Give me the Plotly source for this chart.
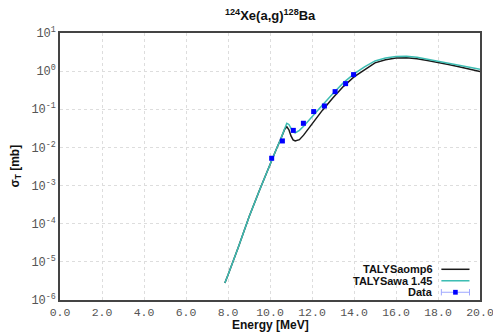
import plotly.graph_objects as go

# Data
energy_th = [7.85, 8.0, 8.5, 9.0, 9.5, 10.0, 10.3, 10.5, 10.7, 10.8, 10.9, 11.0, 11.1, 11.2,
             11.4, 11.6, 12.0, 12.5, 13.0, 13.5, 14.0, 14.5, 15.0, 15.5, 16.0, 16.5, 17.0,
             17.5, 18.0, 18.5, 19.0, 19.5, 20.0]
xs_awa = [2.8e-6, 4.5e-6, 2.5e-5, 1.5e-4, 7.5e-4, 3.8e-3, 9e-3, 0.016, 0.032, 0.043, 0.040,
          0.031, 0.025, 0.024, 0.028, 0.036, 0.065, 0.13, 0.26, 0.5, 0.85, 1.3, 1.85, 2.2,
          2.42, 2.45, 2.3, 2.05, 1.85, 1.65, 1.45, 1.28, 1.12]
xs_omp6 = [2.8e-6, 4.5e-6, 2.5e-5, 1.5e-4, 7.5e-4, 3.8e-3, 9e-3, 0.016, 0.030, 0.035, 0.029,
           0.020, 0.0158, 0.0148, 0.016, 0.021, 0.042, 0.095, 0.2, 0.4, 0.71, 1.1, 1.65, 2.0,
           2.22, 2.25, 2.12, 1.9, 1.7, 1.5, 1.3, 1.14, 0.98]
energy_exp = [10.08, 10.59, 11.11, 11.59, 12.08, 12.59, 13.10, 13.60, 13.98]
xs_exp = [0.0052, 0.0148, 0.028, 0.043, 0.087, 0.122, 0.29, 0.47, 0.81]
xs_exp_err = [0.0005, 0.0015, 0.003, 0.005, 0.009, 0.012, 0.03, 0.045, 0.07]

x_ticks = [0, 2, 4, 6, 8, 10, 12, 14, 16, 18, 20]
x_ticklabels = ["0.0", "2.0", "4.0", "6.0", "8.0", "10.0", "12.0", "14.0", "16.0", "18.0", "20.0"]
y_exps = [-6, -5, -4, -3, -2, -1, 0, 1]

black = "#1a1a1a"
teal = "#3dbdb3"
blue = "#0000ff"
errc = "#9fa8ff"

fig = go.Figure()
fig.add_trace(go.Scatter(x=energy_th, y=xs_omp6, mode="lines", name="TALYSaomp6",
                         line=dict(color=black, width=1.5), showlegend=False))
fig.add_trace(go.Scatter(x=energy_th, y=xs_awa, mode="lines", name="TALYSawa 1.45",
                         line=dict(color=teal, width=1.5), showlegend=False))
fig.add_trace(go.Scatter(x=energy_exp, y=xs_exp, mode="markers", name="Data",
                         marker=dict(symbol="square", size=5, color=blue),
                         error_y=dict(type="data", array=xs_exp_err, color=errc, thickness=1, width=2),
                         showlegend=False))

tickfont = dict(family="Liberation Mono, Courier New, monospace", size=12, color="#555555")
xtickfont = dict(family="Liberation Mono, Courier New, monospace", size=11.5, color="#555555")
titlefont = dict(family="Liberation Sans, Arial", size=12, color="#111111")

fig.update_xaxes(range=[0, 20], tickvals=x_ticks, ticktext=x_ticklabels, tickfont=xtickfont,
                 showgrid=True, gridcolor="#dddddd", griddash="dot", gridwidth=1,
                 showline=True, linecolor="#444444", linewidth=1.5, mirror=True,
                 ticks="inside", ticklen=0, zeroline=False, automargin=False,
                 ticklabeloverflow="allow")
fig.update_yaxes(type="log", range=[-6, 1], tickvals=[10 ** e for e in y_exps],
                 ticktext=["10<sup>%d</sup>" % e for e in y_exps], tickfont=tickfont,
                 showgrid=True, gridcolor="#dddddd", griddash="dot", gridwidth=1,
                 showline=True, linecolor="#444444", linewidth=1.5, mirror=True,
                 ticks="inside", ticklen=0, zeroline=False, automargin=False,
                 ticklabeloverflow="allow")

# Legend (text right-aligned, sample on the right), in paper coordinates
legend_items = [("TALYSaomp6", black), ("TALYSawa 1.45", teal), ("Data", None)]
row_y = [0.115, 0.072, 0.029]
annotations = [
    dict(text="<b><sup>124</sup>Xe(a,g)<sup>128</sup>Ba</b>", x=0.5, xref="paper",
         y=1.0, yref="paper", yanchor="bottom", yshift=8, showarrow=False,
         font=dict(family="Liberation Sans, Arial", size=13, color="#111111")),
    dict(text="<b>Energy [MeV]</b>", x=0.5, xref="paper", y=0, yref="paper",
         yanchor="top", yshift=-16, showarrow=False, font=titlefont),
    dict(text="<b>σ<sub>T</sub> [mb]</b>", x=0, xref="paper", y=0.5, yref="paper",
         xanchor="center", xshift=-45, textangle=-90, showarrow=False, font=titlefont),
]
shapes = []
for (name, col), yy in zip(legend_items, row_y):
    annotations.append(dict(text="<b>%s</b>" % name, x=0.893, xref="paper", y=yy, yref="paper",
                            xanchor="right", yanchor="middle", showarrow=False,
                            font=dict(family="Liberation Sans, Arial", size=11, color="#111111")))
    if col is not None:
        shapes.append(dict(type="line", xref="paper", yref="paper", x0=0.908, x1=0.975, y0=yy, y1=yy,
                           line=dict(color=col, width=1.5)))
    else:
        shapes.append(dict(type="line", xref="paper", yref="paper", x0=0.908, x1=0.975, y0=yy, y1=yy,
                           line=dict(color=errc, width=1)))
        for xe in (0.908, 0.975):
            shapes.append(dict(type="line", xref="paper", yref="paper", x0=xe, x1=xe, y0=yy - 0.012, y1=yy + 0.012,
                               line=dict(color=errc, width=1)))
        shapes.append(dict(type="rect", xref="paper", yref="paper", x0=0.936, x1=0.947, y0=yy - 0.009, y1=yy + 0.009,
                           fillcolor=blue, line=dict(width=0)))

fig.update_layout(width=493, height=334, margin=dict(l=60, r=13, t=33, b=34),
                  plot_bgcolor="white", paper_bgcolor="white",
                  annotations=annotations, shapes=shapes, showlegend=False)

fig.write_html("out.html")
